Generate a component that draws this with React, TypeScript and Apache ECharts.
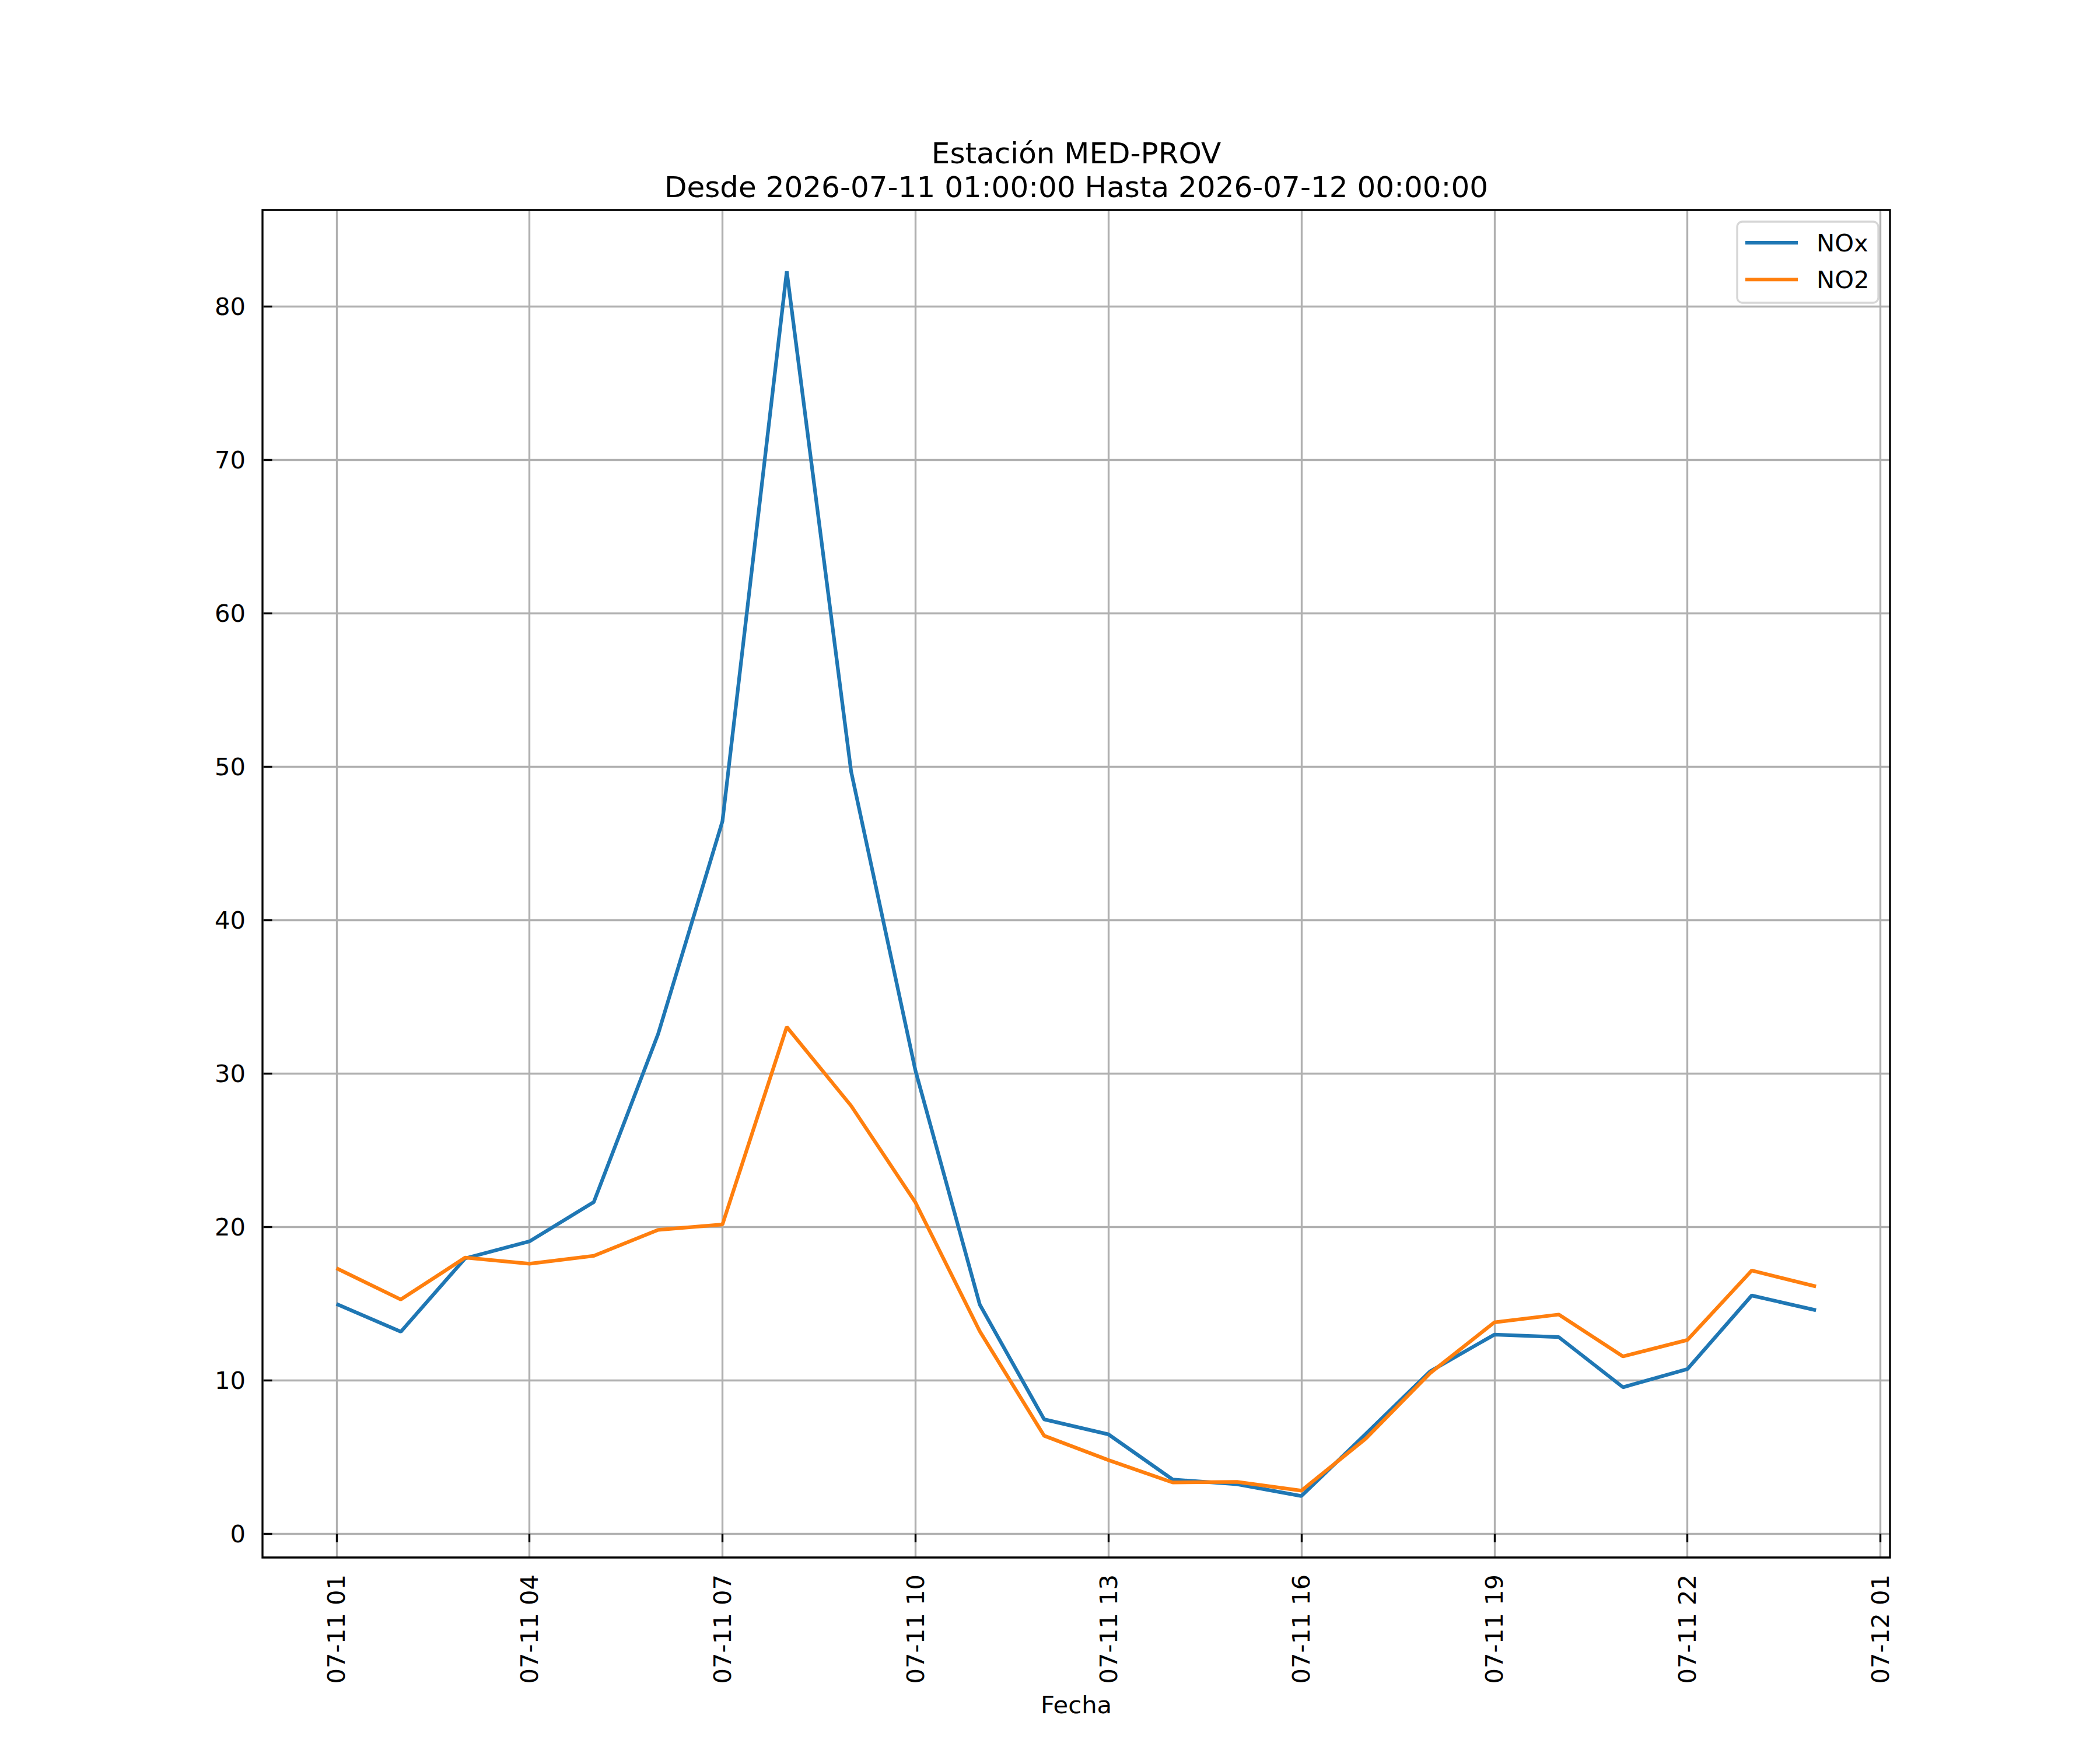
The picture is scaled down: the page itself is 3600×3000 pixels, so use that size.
import React, { useEffect, useRef } from "react";
import * as echarts from "echarts";

// Hourly timestamps (hours since 2026-07-11 00:00)
const times = [
  "2026-07-11 01:00", "2026-07-11 02:00", "2026-07-11 03:00", "2026-07-11 04:00",
  "2026-07-11 05:00", "2026-07-11 06:00", "2026-07-11 07:00", "2026-07-11 08:00",
  "2026-07-11 09:00", "2026-07-11 10:00", "2026-07-11 11:00", "2026-07-11 12:00",
  "2026-07-11 13:00", "2026-07-11 14:00", "2026-07-11 15:00", "2026-07-11 16:00",
  "2026-07-11 17:00", "2026-07-11 18:00", "2026-07-11 19:00", "2026-07-11 20:00",
  "2026-07-11 21:00", "2026-07-11 22:00", "2026-07-11 23:00", "2026-07-12 00:00",
];

const noxValues = [
  14.98, 13.17, 17.95, 19.06, 21.62, 32.58, 46.45, 82.3, 49.7, 30.2, 14.94, 7.46,
  6.48, 3.53, 3.23, 2.46, 6.5, 10.58, 12.98, 12.82, 9.55, 10.73, 15.53, 14.57,
];

const no2Values = [
  17.31, 15.27, 18.0, 17.6, 18.12, 19.81, 20.16, 33.04, 27.9, 21.6, 13.2, 6.39,
  4.8, 3.34, 3.38, 2.81, 6.2, 10.47, 13.78, 14.29, 11.56, 12.63, 17.16, 16.12,
];

const seriesNames = ["NOx", "NO2"];
const seriesColors = ["#1f77b4", "#ff7f0e"];

// Tick positions (hours since 2026-07-11 00:00) and y ticks
const xTickHours = [1, 4, 7, 10, 13, 16, 19, 22, 25];
const yTicks = [0, 10, 20, 30, 40, 50, 60, 70, 80];

const titleLines = [
  "Estación MED-PROV",
  "Desde 2026-07-11 01:00:00 Hasta 2026-07-12 00:00:00",
];

const toHours = (t: string) => {
  const [d, hm] = t.split(" ");
  const day = parseInt(d.split("-")[2], 10);
  const h = parseInt(hm.split(":")[0], 10);
  return (day - 11) * 24 + h;
};

const fmtTick = (v: number) => {
  const day = 11 + Math.floor(v / 24);
  const hh = Math.round(v % 24);
  return `07-${String(day).padStart(2, "0")} ${String(hh).padStart(2, "0")}`;
};

const FONT = "DejaVu Sans";
const FS = 41.7;

export default function App() {
  const ref = useRef<HTMLDivElement>(null);

  useEffect(() => {
    document.body.style.margin = "0";
    if (!ref.current) return;
    const chart = echarts.init(ref.current, undefined, { renderer: "svg" });
    const xs = times.map(toHours);

    const legendRows = [416, 479];
    const legendGraphics: any[] = [
      {
        type: "rect",
        shape: { x: 2978, y: 380, width: 242, height: 139, r: 9 },
        style: {
          fill: "rgba(255,255,255,0.8)",
          stroke: "#d6d6d6",
          lineWidth: 3.33,
        },
        z: 20,
      },
    ];
    seriesNames.forEach((name, i) => {
      legendGraphics.push({
        type: "line",
        shape: { x1: 2992, y1: legendRows[i], x2: 3082, y2: legendRows[i] },
        style: { stroke: seriesColors[i], lineWidth: 6.25 },
        z: 21,
      });
      legendGraphics.push({
        type: "text",
        x: 3114,
        y: legendRows[i],
        z: 21,
        style: {
          text: name,
          fontFamily: FONT,
          fontSize: FS,
          fill: "#000",
          textAlign: "left",
          textVerticalAlign: "middle",
        },
      });
    });

    const option: any = {
      animation: false,
      backgroundColor: "#ffffff",
      grid: {
        left: 450,
        right: 360,
        top: 360,
        bottom: 330,
        show: true,
        borderColor: "#000000",
        borderWidth: 3.33,
        backgroundColor: "transparent",
        z: 3,
      },
      graphic: [
        {
          type: "text",
          x: 1845,
          y: 263,
          z: 10,
          style: {
            text: titleLines[0],
            fontFamily: FONT,
            fontSize: 50,
            fill: "#000",
            textAlign: "center",
            textVerticalAlign: "middle",
          },
        },
        {
          type: "text",
          x: 1845,
          y: 321,
          z: 10,
          style: {
            text: titleLines[1],
            fontFamily: FONT,
            fontSize: 50,
            fill: "#000",
            textAlign: "center",
            textVerticalAlign: "middle",
          },
        },
        ...legendGraphics,
      ],
      xAxis: {
        type: "value",
        min: -0.15,
        max: 25.15,
        name: "Fecha",
        nameLocation: "middle",
        nameGap: 231,
        nameTextStyle: { fontFamily: FONT, fontSize: FS, color: "#000" },
        axisLine: { show: false },
        axisTick: {
          show: true,
          length: 14.6,
          lineStyle: { color: "#000", width: 3.33 },
          customValues: xTickHours,
        },
        axisLabel: {
          rotate: 90,
          margin: 29,
          fontFamily: FONT,
          fontSize: FS,
          color: "#000",
          customValues: xTickHours,
          formatter: (v: number) => fmtTick(v),
        },
        splitLine: {
          show: true,
          lineStyle: { color: "#b0b0b0", width: 3.33 },
        },
      },
      yAxis: {
        type: "value",
        min: -1.55,
        max: 86.3,
        axisLine: { show: false },
        axisTick: {
          show: true,
          length: 14.6,
          lineStyle: { color: "#000", width: 3.33 },
          customValues: yTicks,
        },
        axisLabel: {
          margin: 29,
          fontFamily: FONT,
          fontSize: FS,
          color: "#000",
          customValues: yTicks,
        },
        splitLine: {
          show: true,
          lineStyle: { color: "#b0b0b0", width: 3.33 },
        },
      },
      series: [
        {
          name: seriesNames[0],
          type: "line",
          symbol: "none",
          color: seriesColors[0],
          lineStyle: { color: seriesColors[0], width: 6.25 },
          data: xs.map((x, i) => [x, noxValues[i]]),
          z: 2,
        },
        {
          name: seriesNames[1],
          type: "line",
          symbol: "none",
          color: seriesColors[1],
          lineStyle: { color: seriesColors[1], width: 6.25 },
          data: xs.map((x, i) => [x, no2Values[i]]),
          z: 2,
        },
      ],
    };

    chart.setOption(option);
    return () => chart.dispose();
  }, []);

  return <div ref={ref} style={{ width: 3600, height: 3000 }} />;
}
